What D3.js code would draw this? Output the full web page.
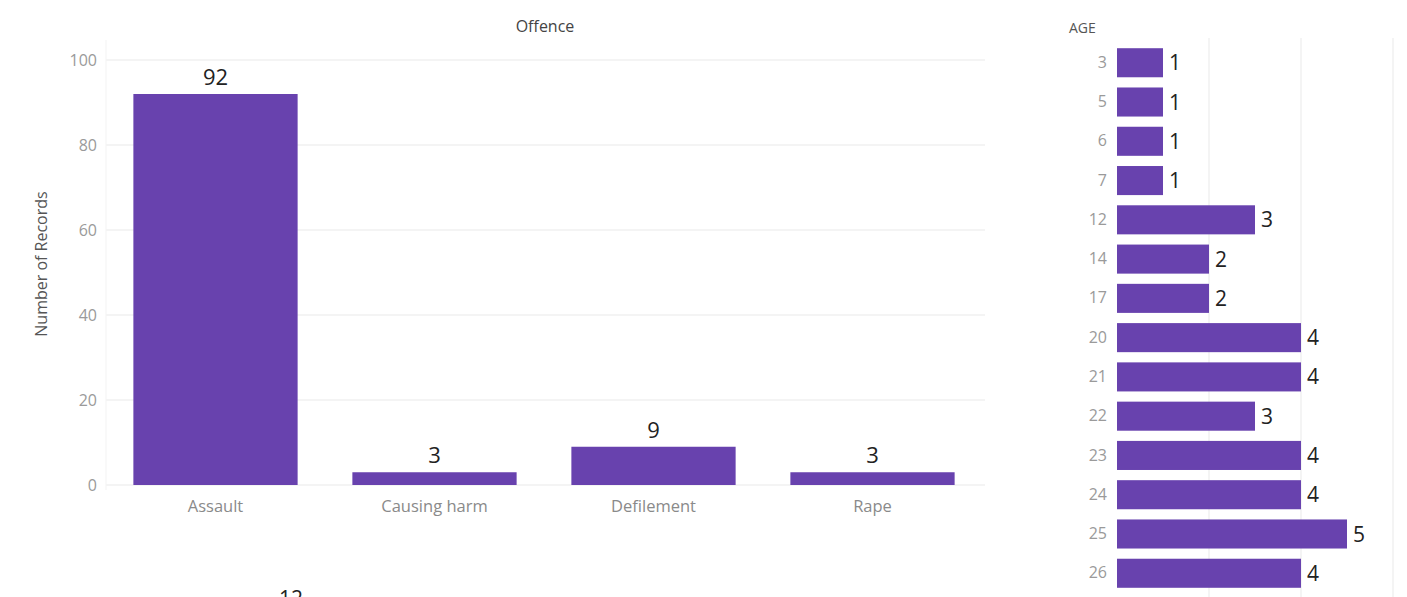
<!DOCTYPE html>
<html>
<head>
<meta charset="utf-8">
<script src="https://cdn.jsdelivr.net/npm/d3@7"></script>
<style>
  body { margin: 0; background: #fff; }
  text { font-family: "Open Sans", "Noto Sans", sans-serif; }
</style>
</head>
<body>
<div id="container"></div>
<script>
/* DATA */
const offences = ["Assault", "Causing harm", "Defilement", "Rape"];
const offenceCounts = [92, 3, 9, 3];
const yTicks = [0, 20, 40, 60, 80, 100];

const ages = ["3", "5", "6", "7", "12", "14", "17", "20", "21", "22", "23", "24", "25", "26"];
const ageCounts = [1, 1, 1, 1, 3, 2, 2, 4, 4, 3, 4, 4, 5, 4];
const ageGrid = [2, 4, 6];

/* CONSTANTS */
const width = 1407, height = 597;
const barColor = "#6842ae";
const tickColor = "#9a9a9a";
const gridColor = "#f0f0f0";

const svg = d3.select("#container")
  .append("svg")
  .attr("width", width)
  .attr("height", height);

/* LEFT CHART - offence */
const xScale = d3.scaleBand()
  .domain(offences)
  .range([106, 982])
  .paddingInner(0.25)
  .paddingOuter(0.125);

const yScale = d3.scaleLinear()
  .domain([0, 100])
  .range([485, 60]);

// gridlines
svg.append("g")
  .selectAll("line")
  .data(yTicks)
  .join("line")
  .attr("x1", 106)
  .attr("x2", 985)
  .attr("y1", d => yScale(d))
  .attr("y2", d => yScale(d))
  .attr("stroke", gridColor)
  .attr("stroke-width", 1.5);

svg.append("line")
  .attr("x1", 106).attr("x2", 106)
  .attr("y1", 40).attr("y2", 490)
  .attr("stroke", "#f3f3f3");

const yAxis = d3.axisLeft(yScale).tickValues(yTicks).tickSize(0).tickPadding(9);
svg.append("g")
  .attr("transform", "translate(106,0)")
  .call(yAxis)
  .call(g => g.select(".domain").remove())
  .call(g => g.selectAll("text")
    .attr("fill", tickColor)
    .style("font-size", "16px"));

const xAxis = d3.axisBottom(xScale).tickSize(0).tickPadding(15);
svg.append("g")
  .attr("transform", "translate(0,485)")
  .call(xAxis)
  .call(g => g.select(".domain").remove())
  .call(g => g.selectAll("text")
    .attr("fill", "#8a8a8a")
    .style("font-size", "16.5px"));

svg.append("g")
  .selectAll("rect")
  .data(offences)
  .join("rect")
  .attr("x", d => xScale(d))
  .attr("width", xScale.bandwidth())
  .attr("y", (d, i) => yScale(offenceCounts[i]))
  .attr("height", (d, i) => yScale(0) - yScale(offenceCounts[i]))
  .attr("fill", barColor);

svg.append("g")
  .selectAll("text")
  .data(offences)
  .join("text")
  .attr("x", d => xScale(d) + xScale.bandwidth() / 2)
  .attr("y", (d, i) => yScale(offenceCounts[i]) - 9)
  .attr("text-anchor", "middle")
  .attr("fill", "#222")
  .style("font-size", "22px")
  .text((d, i) => offenceCounts[i]);

svg.append("text")
  .attr("x", 545).attr("y", 32)
  .attr("text-anchor", "middle")
  .attr("fill", "#444")
  .style("font-size", "16px")
  .text("Offence");

svg.append("text")
  .attr("transform", "translate(47,264) rotate(-90)")
  .attr("text-anchor", "middle")
  .attr("fill", "#555")
  .style("font-size", "16px")
  .text("Number of Records");

// partially visible label at the bottom edge
svg.append("text")
  .attr("x", 291).attr("y", 606)
  .attr("text-anchor", "middle")
  .attr("fill", "#222")
  .style("font-size", "21px")
  .text("12");

/* RIGHT CHART - age */
const ageX = d3.scaleLinear()
  .domain([0, 6])
  .range([1117, 1393]);

const ageY = d3.scaleBand()
  .domain(ages)
  .range([38, 598])
  .padding(0.26);

svg.append("g")
  .selectAll("line")
  .data(ageGrid)
  .join("line")
  .attr("x1", d => ageX(d))
  .attr("x2", d => ageX(d))
  .attr("y1", 38)
  .attr("y2", 597)
  .attr("stroke", gridColor)
  .attr("stroke-width", 1.5);

const ageAxis = d3.axisLeft(ageY).tickSize(0).tickPadding(10);
svg.append("g")
  .attr("transform", "translate(1117,0)")
  .call(ageAxis)
  .call(g => g.select(".domain").remove())
  .call(g => g.selectAll("text")
    .attr("fill", tickColor)
    .style("font-size", "16px"));

svg.append("g")
  .selectAll("rect")
  .data(ages)
  .join("rect")
  .attr("x", ageX(0))
  .attr("y", d => ageY(d))
  .attr("height", ageY.bandwidth())
  .attr("width", (d, i) => ageX(ageCounts[i]) - ageX(0))
  .attr("fill", barColor);

svg.append("g")
  .selectAll("text")
  .data(ages)
  .join("text")
  .attr("x", (d, i) => ageX(ageCounts[i]) + 6)
  .attr("y", d => ageY(d) + ageY.bandwidth() / 2)
  .attr("dy", "0.36em")
  .attr("fill", "#222")
  .style("font-size", "21px")
  .text((d, i) => ageCounts[i]);

svg.append("text")
  .attr("x", 1069).attr("y", 33)
  .attr("fill", "#555")
  .style("font-size", "14px")
  .text("AGE");
</script>
</body>
</html>
